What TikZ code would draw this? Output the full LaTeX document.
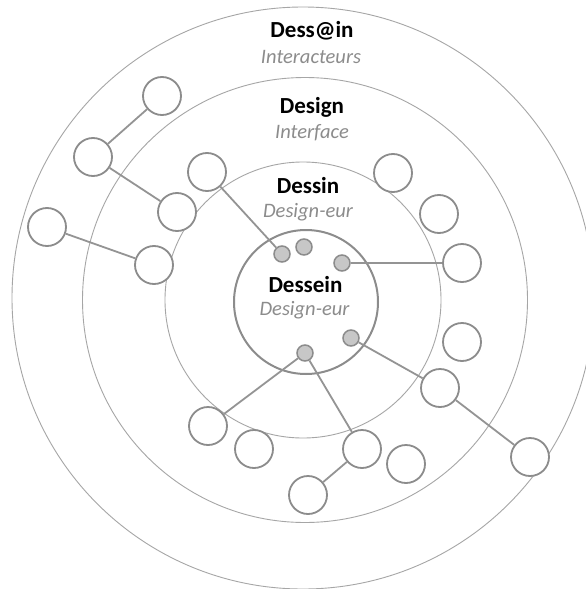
\documentclass[tikz,border=0pt]{standalone}
\usepackage{fontspec}
\setmainfont{Carlito}
\begin{document}
\begin{tikzpicture}[x=1pt,y=-1pt,
  ring/.style={draw=black!35,line width=0.9pt},
  core/.style={draw=black!45,line width=2pt},
  actor/.style={circle,draw=black!45,line width=1.8pt,minimum size=38pt,inner sep=0pt,fill=white},
  dot/.style={circle,draw=black!45,line width=1.5pt,fill=black!22,minimum size=16pt,inner sep=0pt},
  link/.style={draw=black!42,line width=1.8pt},
  ttl/.style={font=\fontsize{23}{26}\selectfont\bfseries,text=black,anchor=base,inner sep=0pt},
  sub/.style={font=\fontsize{20.5}{24}\selectfont\itshape,text=black!45,anchor=base,inner sep=0pt}]
\useasboundingbox (0,0) rectangle (586,589);
\clip (0,0) rectangle (586,589);
\fill[white] (0,0) rectangle (586,589);
% rings
\draw[ring] (303,298) circle (291);
\draw[ring] (305,300) circle (222.5);
\draw[ring] (303,300) circle (138);
\draw[core] (306,302) circle (72);
% labels
\node[ttl] (t1) at (312,37) {Dess@in};
\node[sub] (s1) at (311,63) {Interacteurs};
\node[ttl] (t2) at (312,113) {Design};
\node[sub] (s2) at (312,138) {Interface};
\node[ttl] (t3) at (308,193) {Dessin};
\node[sub] (s3) at (308,217) {Design-eur};
\node[ttl] (t4) at (305.5,292) {Dessein};
\node[sub] (s4) at (304.5,315) {Design-eur};
% inner dots
\node[dot] (d1) at (282,254) {};
\node[dot] (d2) at (304,247) {};
\node[dot] (d3) at (342,263) {};
\node[dot] (d4) at (351,338) {};
\node[dot] (d5) at (305,353) {};
% actors
\node[actor] (A) at (162,96) {};
\node[actor] (B) at (93,157) {};
\node[actor] (C) at (177,212) {};
\node[actor] (D) at (47,227) {};
\node[actor] (E) at (154,265) {};
\node[actor] (F) at (207,172) {};
\node[actor] (G) at (393,173) {};
\node[actor] (H) at (439,214) {};
\node[actor] (I) at (462,263) {};
\node[actor] (J) at (462,342) {};
\node[actor] (K) at (440,388) {};
\node[actor] (R) at (530,457) {};
\node[actor] (L) at (208,426) {};
\node[actor] (M) at (254,449) {};
\node[actor] (N) at (362,449) {};
\node[actor] (O) at (308,495) {};
\node[actor] (Q) at (406,464) {};
% links
\draw[link] (A) -- (B);
\draw[link] (B) -- (C);
\draw[link] (D) -- (E);
\draw[link] (F) -- (d1);
\draw[link] (d3) -- (I);
\draw[link] (d4) -- (K);
\draw[link] (K) -- (R);
\draw[link] (d5) -- (L);
\draw[link] (d5) -- (N);
\draw[link] (N) -- (O);
\end{tikzpicture}
\end{document}
